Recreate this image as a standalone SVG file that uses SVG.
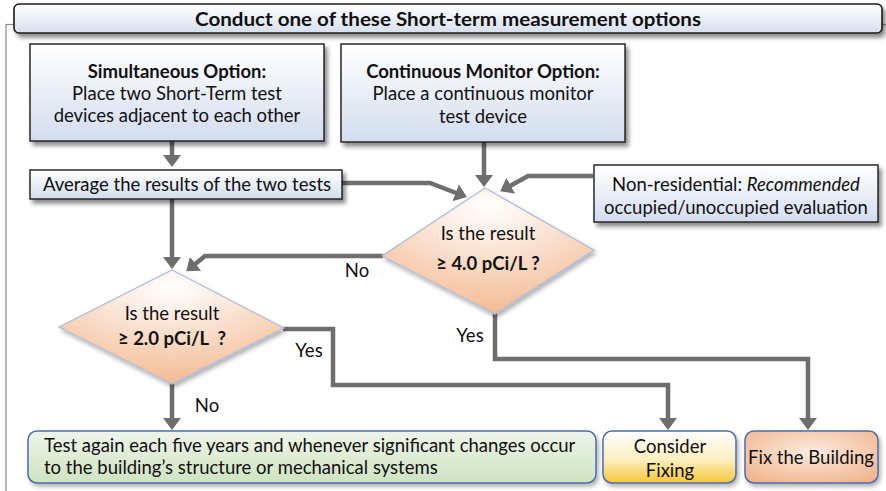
<svg xmlns="http://www.w3.org/2000/svg" width="886" height="491" viewBox="0 0 886 491">
<defs>
<linearGradient id="gBlue" x1="0" y1="0" x2="0" y2="1"><stop offset="0" stop-color="#ffffff"/><stop offset="1" stop-color="#d3ddee"/></linearGradient>
<linearGradient id="gTitle" x1="0" y1="0" x2="0" y2="1"><stop offset="0" stop-color="#ffffff"/><stop offset="1" stop-color="#d6dfef"/></linearGradient>
<linearGradient id="gGreen" x1="0" y1="0" x2="0" y2="1"><stop offset="0" stop-color="#eef5e9"/><stop offset="1" stop-color="#cfe3c2"/></linearGradient>
<linearGradient id="gYellow" x1="0" y1="0" x2="0" y2="1"><stop offset="0" stop-color="#ffffff"/><stop offset="0.55" stop-color="#fcefc0"/><stop offset="1" stop-color="#f6c636"/></linearGradient>
<radialGradient id="gPeach" cx="0.5" cy="0.4" r="0.75"><stop offset="0" stop-color="#fcebdf"/><stop offset="1" stop-color="#efb086"/></radialGradient>
<radialGradient id="gDiamond" cx="0.5" cy="0.15" r="0.9"><stop offset="0" stop-color="#ffffff"/><stop offset="0.35" stop-color="#fbe6d8"/><stop offset="1" stop-color="#f2b68c"/></radialGradient>
<filter id="sh" x="-10%" y="-20%" width="130%" height="160%"><feDropShadow dx="3" dy="4" stdDeviation="2" flood-color="#000" flood-opacity="0.45"/></filter>
<filter id="shl" x="-10%" y="-20%" width="130%" height="160%"><feDropShadow dx="2" dy="3" stdDeviation="2" flood-color="#000" flood-opacity="0.3"/></filter>
<marker id="ah" markerUnits="userSpaceOnUse" markerWidth="20" markerHeight="20" refX="2" refY="9" orient="auto"><path d="M0,0 L12,9 L0,18 Z" fill="#6e6e6e"/></marker>
<style>
.box{fill:url(#gBlue);stroke:#1b1b1b;stroke-width:1.4;filter:url(#sh)}
.t{font-family:Lato,"Open Sans","Liberation Sans",sans-serif;font-size:18.5px;fill:#111;text-anchor:middle}
.b{font-weight:bold}
.ca{fill:none;stroke:#6e6e6e;stroke-width:4.5;marker-end:url(#ah)}
.dia{fill:url(#gDiamond);stroke:#a9bcdc;stroke-width:1.2;filter:url(#shl)}
.rb{stroke:#4a6cad;stroke-width:1.5;filter:url(#shl)}
</style>
</defs>
<rect x="6" y="24.5" width="920" height="520" fill="none" stroke="#8c8c8c" stroke-width="1.2"/>

<g id="title">
<rect x="14" y="4" width="868" height="29" rx="5" fill="url(#gTitle)" stroke="#1b1b1b" stroke-width="1.6" filter="url(#sh)"/>
<text class="t b" x="448" y="25.5" font-size="19" textLength="506" lengthAdjust="spacingAndGlyphs">Conduct one of these Short-term measurement options</text>
</g>

<g id="connectors">
<path class="ca" d="M172,141 V157"/>
<path class="ca" d="M342,183 H430 L457.5,193.5"/>
<path class="ca" d="M484,142 V177"/>
<path class="ca" d="M593,176 H528 L509,186.5"/>
<path class="ca" d="M383,256 H205 L194,265"/>
<path class="ca" d="M172,199 V259"/>
<path class="ca" d="M283,329 H333 V385 H668 V420"/>
<path class="ca" d="M495,313 V359 H808 V420"/>
<path class="ca" d="M172,383 V420"/>
</g>

<g id="simultaneous">
<rect class="box" x="30" y="44" width="294" height="97"/>
<text class="t b" x="177" y="78">Simultaneous Option:</text>
<text class="t" x="177" y="100">Place two Short-Term test</text>
<text class="t" x="177" y="122">devices adjacent to each other</text>
</g>

<g id="continuous">
<rect class="box" x="341" y="44" width="284" height="98"/>
<text class="t b" x="483" y="78">Continuous Monitor Option:</text>
<text class="t" x="483" y="100">Place a continuous monitor</text>
<text class="t" x="483" y="123">test device</text>
</g>

<g id="average">
<rect class="box" x="30" y="170" width="312" height="29"/>
<text class="t" x="187" y="191">Average the results of the two tests</text>
</g>

<g id="nonres">
<rect class="box" x="594" y="165" width="284" height="57"/>
<text class="t" x="736" y="191">Non-residential: <tspan font-style="italic">Recommended</tspan></text>
<text class="t" x="736" y="214">occupied/unoccupied evaluation</text>
</g>

<g id="decision4">
<polygon class="dia" points="485,188 594,250 495,314 382,256"/>
<text class="t" x="488" y="240">Is the result</text>
<text class="t b" x="488" y="270">≥ 4.0 pCi/L ?</text>
</g>

<g id="decision2">
<polygon class="dia" points="172,270 284,328 172,384 59,327"/>
<text class="t" x="172" y="320">Is the result</text>
<text class="t b" x="172" y="345" xml:space="preserve">≥ 2.0 pCi/L  ?</text>
</g>

<g id="labels">
<text class="t" x="357" y="277">No</text>
<text class="t" x="470" y="342">Yes</text>
<text class="t" x="309" y="357">Yes</text>
<text class="t" x="207" y="412">No</text>
</g>

<g id="testagain">
<rect class="rb" x="28" y="431" width="568" height="52" rx="9" fill="url(#gGreen)"/>
<text class="t" x="44" y="452" style="text-anchor:start">Test again each five years and whenever significant changes occur</text>
<text class="t" x="44" y="474" style="text-anchor:start">to the building’s structure or mechanical systems</text>
</g>

<g id="consider">
<rect class="rb" x="603" y="431" width="133" height="52" rx="9" fill="url(#gYellow)"/>
<text class="t" x="670" y="453">Consider</text>
<text class="t" x="670" y="477">Fixing</text>
</g>

<g id="fix">
<rect class="rb" x="745" y="431" width="133" height="52" rx="9" fill="url(#gPeach)"/>
<text class="t" x="811" y="464">Fix the Building</text>
</g>
</svg>
